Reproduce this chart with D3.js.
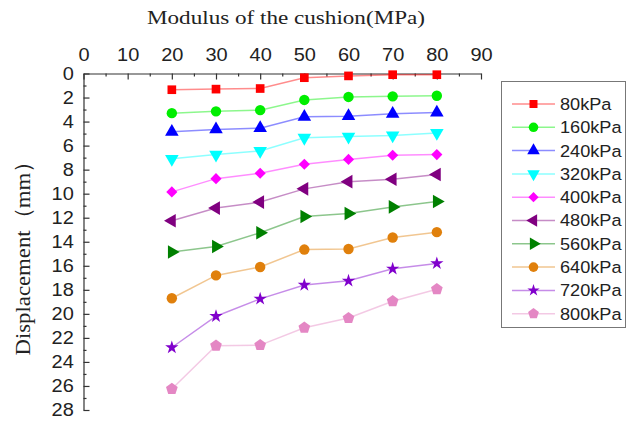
<!DOCTYPE html>
<html>
<head>
<meta charset="utf-8">
<script src="https://cdn.jsdelivr.net/npm/d3@7"></script>
<style>
  body { margin: 0; background: #fff; }
  svg { display: block; }
</style>
</head>
<body>
<svg width="629" height="426"></svg>
<script>
// modulus of the cushion (MPa) on x
var moduli = [20, 30, 40, 50, 60, 70, 80];
// displacement (mm) per load level
var loads = ["80kPa", "160kPa", "240kPa", "320kPa", "400kPa", "480kPa", "560kPa", "640kPa", "720kPa", "800kPa"];
var d80  = [1.35, 1.3, 1.25, 0.35, 0.2, 0.1, 0.1];
var d160 = [3.3, 3.15, 3.05, 2.2, 1.95, 1.9, 1.85];
var d240 = [4.85, 4.65, 4.55, 3.6, 3.55, 3.35, 3.25];
var d320 = [7.1, 6.75, 6.45, 5.35, 5.25, 5.15, 4.95];
var d400 = [9.85, 8.75, 8.3, 7.55, 7.15, 6.8, 6.75];
var d480 = [12.25, 11.2, 10.7, 9.6, 9.0, 8.8, 8.4];
var d560 = [14.85, 14.4, 13.25, 11.9, 11.65, 11.1, 10.65];
var d640 = [18.7, 16.8, 16.1, 14.65, 14.6, 13.65, 13.2];
var d720 = [22.8, 20.2, 18.75, 17.6, 17.25, 16.25, 15.8];
var d800 = [26.25, 22.65, 22.6, 21.15, 20.35, 18.95, 17.95];
var xTicks = [0, 10, 20, 30, 40, 50, 60, 70, 80, 90];
var yTicks = [0, 2, 4, 6, 8, 10, 12, 14, 16, 18, 20, 22, 24, 26, 28];

var allSeries = [d80, d160, d240, d320, d400, d480, d560, d640, d720, d800];
var colors = ["#ff0000", "#00ee00", "#0000ff", "#00ffff", "#ff00ff", "#800080", "#008000", "#e0800c", "#8000cc", "#e487c4"];

// marker shapes
var pentagon = {
  draw: function(ctx, size) {
    var r = Math.sqrt(size / 2.378);
    for (var i = 0; i < 5; i++) {
      var a = -Math.PI / 2 + i * 2 * Math.PI / 5;
      if (i === 0) ctx.moveTo(r * Math.cos(a), r * Math.sin(a));
      else ctx.lineTo(r * Math.cos(a), r * Math.sin(a));
    }
    ctx.closePath();
  }
};
var shapes = [
  { t: d3.symbolSquare, s: 75, r: 0 },
  { t: d3.symbolCircle, s: 85, r: 0 },
  { t: d3.symbolTriangle, s: 80, r: 0 },
  { t: d3.symbolTriangle, s: 80, r: 180 },
  { t: d3.symbolSquare, s: 62, r: 45 },
  { t: d3.symbolTriangle, s: 80, r: -90 },
  { t: d3.symbolTriangle, s: 80, r: 90 },
  { t: d3.symbolCircle, s: 85, r: 0 },
  { t: d3.symbolStar, s: 55, r: 0 },
  { t: pentagon, s: 90, r: 0 }
];

var svg = d3.select("svg");

var x = d3.scaleLinear().domain([0, 90]).range([83.5, 481]);
var y = d3.scaleLinear().domain([0, 28]).range([73.5, 410]);

// title on top
svg.append("text")
    .attr("x", 147).attr("y", 24)
    .attr("textLength", 278).attr("lengthAdjust", "spacingAndGlyphs")
    .style("font-family", "'Liberation Serif', 'Times New Roman', serif")
    .style("font-size", "19px")
    .style("fill", "#222")
    .text("Modulus of the cushion(MPa)");

// y label
svg.append("text")
    .attr("transform", "translate(30,253) scale(1.15,1) rotate(-90)")
    .attr("text-anchor", "middle")
    .attr("textLength", 205).attr("lengthAdjust", "spacingAndGlyphs")
    .style("font-family", "'Liberation Serif', 'Times New Roman', serif")
    .style("font-size", "19px")
    .style("fill", "#222")
    .text("Displacement（mm）");

// top axis, ticks pointing down
var gx = svg.append("g").attr("transform", "translate(0," + y(0) + ")");
gx.call(d3.axisTop(x).tickValues(xTicks).tickSizeInner(-6).tickSizeOuter(0).tickPadding(13));
svg.append("g").attr("transform", "translate(0," + y(0) + ")")
    .call(d3.axisTop(x).tickValues([5, 15, 25, 35, 45, 55, 65, 75, 85]).tickSizeInner(-3).tickSizeOuter(0).tickFormat(""))
    .select(".domain").remove();

// left axis, ticks pointing right
var gy = svg.append("g").attr("transform", "translate(" + x(0) + ",0)");
gy.call(d3.axisLeft(y).tickValues(yTicks).tickSizeInner(-6).tickSizeOuter(0).tickPadding(9));
svg.append("g").attr("transform", "translate(" + x(0) + ",0)")
    .call(d3.axisLeft(y).tickValues(d3.range(1, 28, 2)).tickSizeInner(-3).tickSizeOuter(0).tickFormat(""))
    .select(".domain").remove();

svg.selectAll(".domain, .tick line").attr("stroke", "#333").attr("stroke-width", 1.2);
svg.selectAll(".tick text")
    .attr("transform", "scale(1.08,1)")
    .style("font-family", "'Liberation Sans', Arial, sans-serif")
    .style("font-size", "18.5px")
    .style("fill", "#222");

// series
var line = d3.line()
    .x(function(d, i) { return x(moduli[i]); })
    .y(function(d) { return y(d); });

allSeries.forEach(function(vals, k) {
  var g = svg.append("g");
  g.append("path")
      .attr("d", line(vals))
      .attr("fill", "none")
      .attr("stroke", colors[k])
      .attr("stroke-opacity", 0.45)
      .attr("stroke-width", 1.5);
  g.selectAll("path.mark")
      .data(vals)
    .enter().append("path")
      .attr("class", "mark")
      .attr("d", d3.symbol().type(shapes[k].t).size(shapes[k].s))
      .attr("transform", function(d, i) { return "translate(" + x(moduli[i]) + "," + y(d) + ") rotate(" + shapes[k].r + ")"; })
      .attr("fill", colors[k]);
});

// legend
var lg = svg.append("g");
lg.append("rect")
    .attr("x", 501.5).attr("y", 81.5)
    .attr("width", 124).attr("height", 246)
    .attr("fill", "#fff").attr("stroke", "#777").attr("stroke-width", 1);
loads.forEach(function(name, k) {
  var cy = 104 + k * 23.3;
  lg.append("line")
      .attr("x1", 512).attr("x2", 555).attr("y1", cy).attr("y2", cy)
      .attr("stroke", colors[k]).attr("stroke-opacity", 0.45).attr("stroke-width", 1.5);
  lg.append("path")
      .attr("d", d3.symbol().type(shapes[k].t).size(shapes[k].s * 0.85))
      .attr("transform", "translate(533.5," + cy + ") rotate(" + shapes[k].r + ")")
      .attr("fill", colors[k]);
  lg.append("text")
      .attr("transform", "translate(560," + cy + ") scale(1.1,1)")
      .attr("dy", "0.36em")
      .style("font-family", "'Liberation Sans', Arial, sans-serif")
      .style("font-size", "16.5px")
      .style("fill", "#222")
      .text(name);
});
</script>
</body>
</html>
